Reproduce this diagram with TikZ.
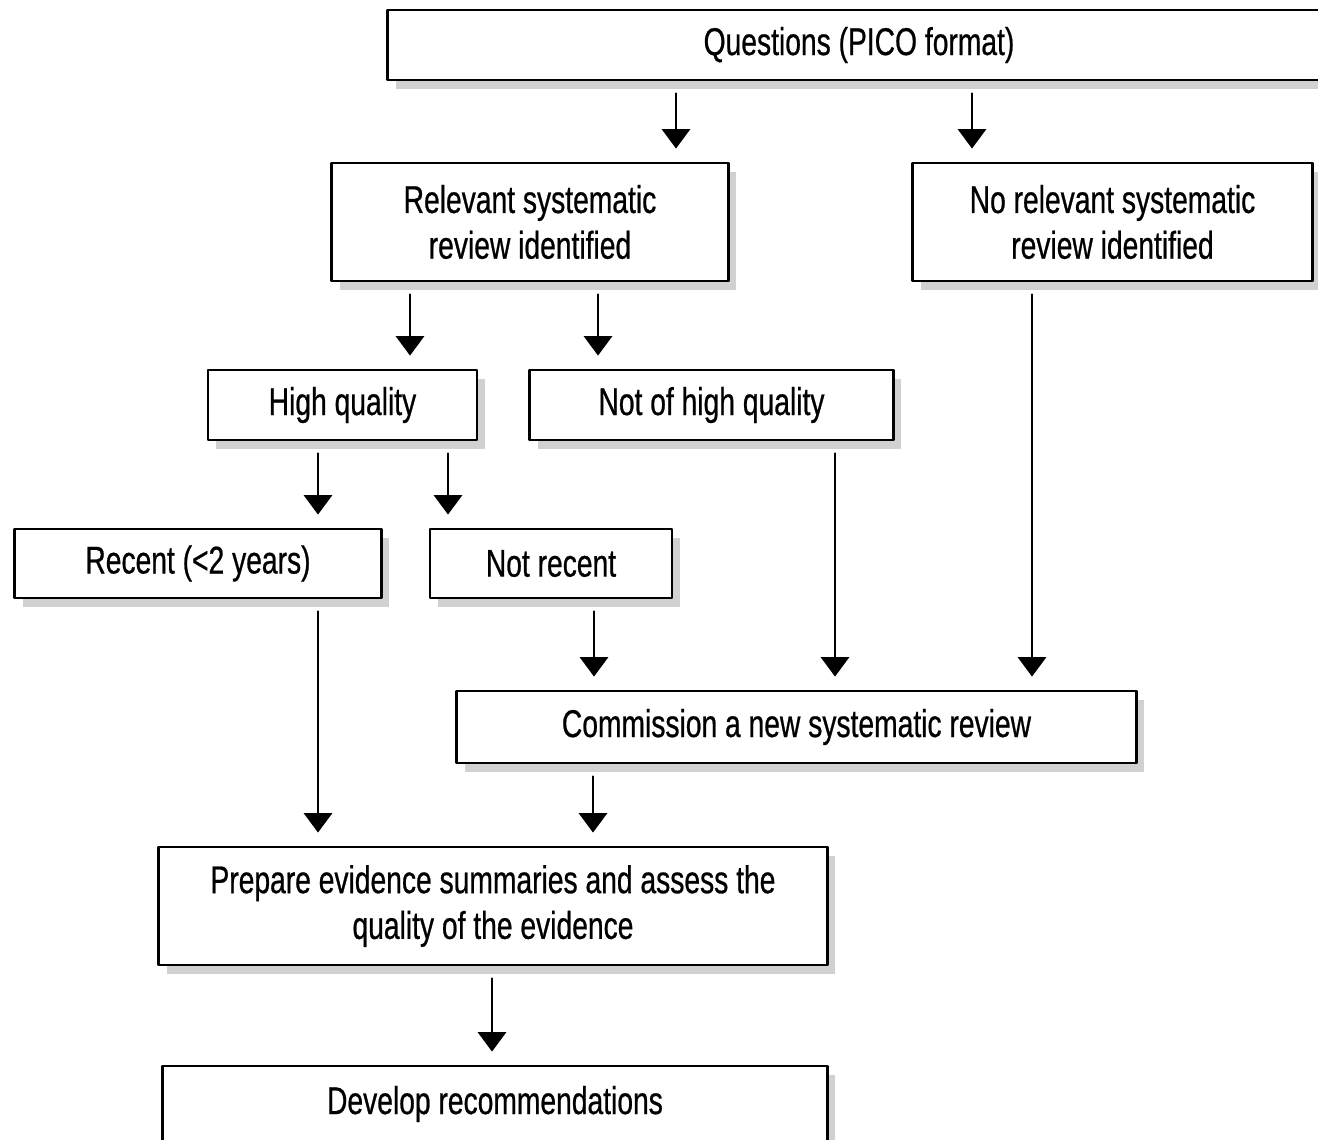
\documentclass[tikz,border=0pt]{standalone}
\usepackage{fontspec}
\setmainfont[FakeStretch=0.73, FakeBold=0.6]{Liberation Sans}
\usetikzlibrary{arrows.meta, shadows}

\begin{document}
\begin{tikzpicture}[x=0.01cm, y=-0.01cm, line cap=round, line join=round,
    box/.style={draw, line width=0.8pt, fill=white, inner sep=0pt, align=center,
      font=\fontsize{11}{13}\selectfont,
      drop shadow={shadow xshift=0.08cm, shadow yshift=-0.09cm, fill=black!18, opacity=1}},
    arr/.style={-{Triangle[width=8pt, length=5.5pt]}, line width=0.65pt,
      shorten <=0.12cm, shorten >=0.13cm}]

  \useasboundingbox (0,0) rectangle (1318,1139);

  %--------------------------
  % Boxes
  %--------------------------
  \node[box, minimum width=9.42cm, minimum height=0.70cm] (q) at (859,45) {Questions (PICO format)};

  \node[box, minimum width=3.96cm, minimum height=1.18cm] (rel) at (530,222) {Relevant systematic\\review identified};
  \node[box, minimum width=3.99cm, minimum height=1.18cm] (norel) at (1112.5,222) {No relevant systematic\\review identified};

  \node[box, minimum width=2.69cm, minimum height=0.70cm] (hq) at (342.5,405) {High quality};
  \node[box, minimum width=3.63cm, minimum height=0.70cm] (nhq) at (711.5,405) {Not of high quality};

  \node[box, minimum width=3.66cm, minimum height=0.69cm] (rec) at (198,563.5) {Recent (<2 years)};
  \node[box, minimum width=2.42cm, minimum height=0.69cm] (nrec) at (551,563.5) {Not recent};

  \node[box, minimum width=6.79cm, minimum height=0.72cm] (com) at (796.5,727) {Commission a new systematic review};

  \node[box, minimum width=6.68cm, minimum height=1.18cm] (prep) at (493,906) {Prepare evidence summaries and assess the\\quality of the evidence};

  \node[box, minimum width=6.64cm, minimum height=0.76cm] (dev) at (495,1104) {Develop recommendations};

  %--------------------------
  % Arrows
  %--------------------------
  \draw[arr] (q.south -| 676,0) -- (rel.north -| 676,0);
  \draw[arr] (q.south -| 972,0) -- (norel.north -| 972,0);

  \draw[arr] (rel.south -| 410,0) -- (hq.north -| 410,0);
  \draw[arr] (rel.south -| 598,0) -- (nhq.north -| 598,0);

  \draw[arr] (hq.south -| 318,0) -- (rec.north -| 318,0);
  \draw[arr] (hq.south -| 448,0) -- (nrec.north -| 448,0);

  \draw[arr] (nrec.south -| 594,0) -- (com.north -| 594,0);
  \draw[arr] (nhq.south -| 835,0) -- (com.north -| 835,0);
  \draw[arr] (norel.south -| 1032,0) -- (com.north -| 1032,0);

  \draw[arr] (rec.south -| 318,0) -- (prep.north -| 318,0);
  \draw[arr] (com.south -| 593,0) -- (prep.north -| 593,0);

  \draw[arr] (prep.south -| 492,0) -- (dev.north -| 492,0);

\end{tikzpicture}
\end{document}
